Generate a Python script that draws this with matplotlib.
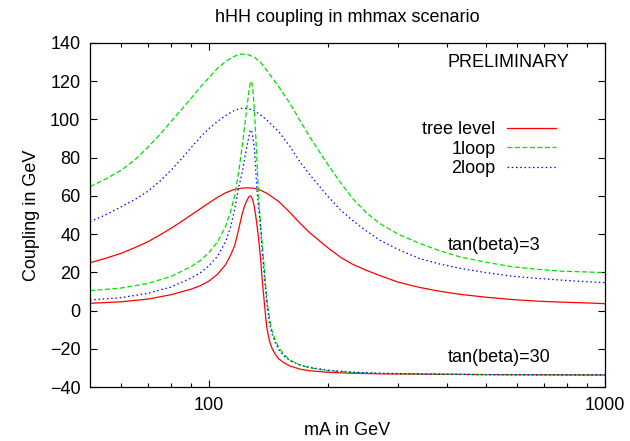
import matplotlib
matplotlib.use("Agg")
import matplotlib.pyplot as plt
from matplotlib.ticker import FixedLocator, NullFormatter

plt.rcParams['font.family'] = ['Liberation Sans', 'DejaVu Sans']

# tan(beta)=3 curves (broad peak)
ma_tb3 = [50, 55, 60, 65, 70, 75, 80, 85, 90, 95, 100, 105, 110, 115, 120, 125,
          130, 135, 140, 150, 160, 170, 180, 190, 200, 215, 230, 250, 270, 300,
          340, 380, 430, 500, 580, 680, 780, 900, 1000]
tree_tb3 = [25, 27.5, 30, 33, 36, 39.5, 43, 46.5, 50, 53.3, 56.4, 59.3, 61.6, 63.2,
            64, 64.2, 64, 62.9, 61.3, 57, 51.3, 45.5, 40.5, 36.5, 32.7, 27.8, 24.3, 21,
            18.3, 14.9, 12.1, 10.2, 8.5, 7, 5.8, 4.9, 4.4, 4, 3.6]
loop1_tb3 = [64.8, 69, 73.5, 79, 85.4, 92, 98.8, 105, 111, 117, 122, 126.8, 130.3,
             132.8, 134.2, 134, 132.6, 129.8, 125.5, 117, 108.4, 99, 90.5, 83, 76,
             66.8, 58.8, 51, 45.5, 40, 35.2, 31.5, 28.1, 25.3, 23, 21.5, 20.6, 20.2, 19.8]
loop2_tb3 = [46.5, 50.3, 54.3, 58.2, 62.4, 67.6, 73.3, 79.3, 85.2, 90.8, 95.3, 99, 102,
             104.4, 105.8, 105.8, 104.6, 102.3, 99.6, 93.5, 85.8, 77.5, 70.8, 65, 59.5,
             52.5, 47.3, 41.5, 36.8, 32, 27.2, 24.5, 22.1, 19.9, 18, 16.8, 15.9, 15.1, 14.6]

# tan(beta)=30 curves (sharp peak)
ma_tb30 = [50, 60, 70, 80, 90, 95, 100, 105, 110, 113, 116, 119, 121, 123, 125, 126,
           127, 128, 129, 130, 131, 132, 133, 134, 135, 136, 137, 138, 139, 140, 142,
           144, 147, 150, 155, 160, 170, 180, 200, 230, 270, 350, 500, 700, 1000]
tree_tb30 = [3.8, 4.6, 6.0, 8.3, 11.2, 13, 15.5, 19, 24, 28.5, 34, 43.5, 50, 55, 58.3,
             59.5, 60, 59.3, 57.5, 54.5, 50, 45, 39.5, 33, 26, 17, 10, 3, -4, -9.5, -16,
             -19.5, -23, -25.3, -27.5, -29, -30.7, -31.5, -32.3, -32.8, -33.1, -33.3,
             -33.5, -33.6, -33.7]
loop1_tb30 = [10.4, 11.8, 14.2, 17.8, 23, 26.2, 30.5, 36, 44, 51, 60, 74, 85, 97, 109,
              114.5, 119, 120, 115, 106, 93, 79, 65, 53, 44, 36, 28.5, 20.5, 12.5, 5, -4,
              -10.2, -15.5, -19.5, -23.3, -26, -28.5, -30, -31.5, -32.4, -32.9, -33.2,
              -33.5, -33.6, -33.7]
loop2_tb30 = [5.5, 6.8, 9, 12.3, 17, 19.8, 23.5, 28.5, 36, 43, 53, 65.5, 71.5, 80, 87.5,
              91, 94.5, 94, 90.5, 85.5, 75, 63.5, 55.5, 49.5, 42, 32, 24.5, 17, 10, 3.5,
              -6.5, -12, -17, -20.6, -24, -26.2, -28.5, -29.8, -31.2, -32.2, -32.8,
              -33.2, -33.5, -33.6, -33.7]

labels = ['tree level', '1loop', '2loop']
colors = ['#ff0000', '#00e000', '#0000ff']
dashes = [(None, None), (4, 2), (1.2, 2.2)]

fig = plt.figure(figsize=(6.3, 4.41), dpi=100)
ax = fig.add_axes([0.1429, 0.1224, 0.8174, 0.7801])

# draw both tan(beta) families, legend only from the first
for ys, lab, c, d in zip([tree_tb3, loop1_tb3, loop2_tb3], labels, colors, dashes):
    line, = ax.plot(ma_tb3, ys, color=c, linewidth=0.9, label=lab)
    if d[0] is not None:
        line.set_dashes(d)
for ys, c, d in zip([tree_tb30, loop1_tb30, loop2_tb30], colors, dashes):
    line, = ax.plot(ma_tb30, ys, color=c, linewidth=0.9)
    if d[0] is not None:
        line.set_dashes(d)

ax.set_xscale('log')
ax.set_xlim(50, 1000)
ax.set_ylim(-40, 140)
ax.xaxis.set_major_locator(FixedLocator([100, 1000]))
ax.xaxis.set_minor_locator(FixedLocator([60, 70, 80, 90, 200, 300, 400, 500, 600, 700, 800, 900]))
ax.xaxis.set_minor_formatter(NullFormatter())
ax.set_xticklabels(['100', '1000'])
ax.set_yticks(range(-40, 141, 20))

ax.tick_params(which='both', direction='in', top=True, right=True, labelsize=13)
ax.tick_params(which='major', length=5, width=0.8, pad=7)
ax.tick_params(which='minor', length=3, width=0.8)
for s in ax.spines.values():
    s.set_linewidth(0.9)

ax.set_title('hHH coupling in mhmax scenario', fontsize=13, pad=15)
ax.set_xlabel('mA in GeV', fontsize=13, labelpad=6)
ax.set_ylabel('Coupling in GeV', fontsize=13, labelpad=7)

ax.text(400, 130, 'PRELIMINARY', fontsize=13, va='center')
ax.text(400, 34.3, 'tan(beta)=3', fontsize=13, va='center')
ax.text(400, -24.8, 'tan(beta)=30', fontsize=13, va='center')

ax.legend(loc='upper right', bbox_to_anchor=(0.905, 0.772), frameon=False,
          markerfirst=False, handlelength=2.7, handletextpad=0.65,
          labelspacing=0.13, fontsize=13, borderaxespad=0, borderpad=0)

fig.savefig('out.png', dpi=100)
